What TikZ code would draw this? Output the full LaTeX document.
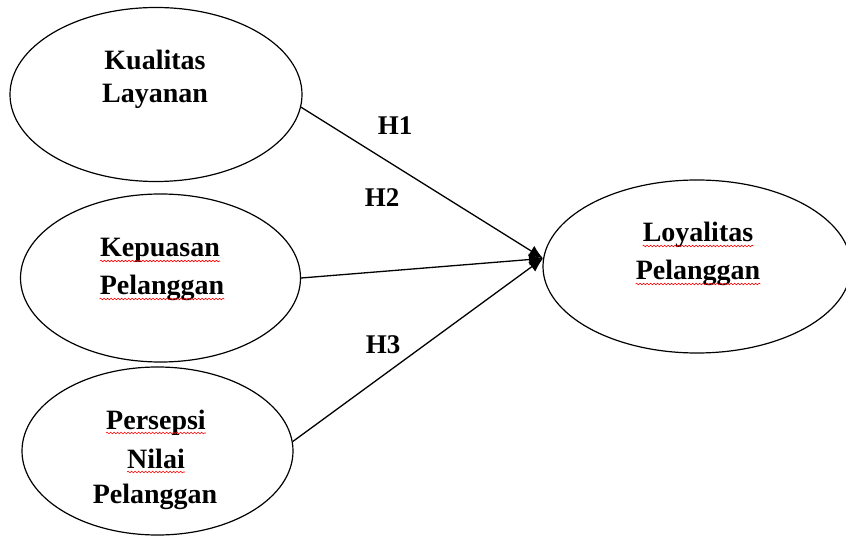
\documentclass[tikz,border=0pt]{standalone}
\usepackage{fontspec}
\setmainfont{Liberation Serif}
\usetikzlibrary{shapes.geometric,arrows.meta,decorations.pathmorphing}
\begin{document}
\begin{tikzpicture}[x=1pt,y=-1pt,
  oval/.style={draw, ellipse, line width=1.2pt, inner sep=0pt},
  lbl/.style={font=\bfseries\fontsize{28}{33}\selectfont, inner sep=0pt, anchor=base},
  hyp/.style={font=\bfseries\fontsize{27}{30}\selectfont, inner sep=0pt},
  link/.style={line width=1.3pt, -{Latex[length=14pt,width=12pt]}},
  spell/.style={draw=red, line width=0.6pt, decorate, decoration={snake, amplitude=0.8pt, segment length=3.5pt}}]
\useasboundingbox (0,0) rectangle (846,537);
\fill[white] (0,0) rectangle (846,537);
% ellipses
\node[oval, minimum width=292pt, minimum height=174pt] (e1) at (156,94.5) {};
\node[oval, minimum width=280pt, minimum height=168pt] (e2) at (160.5,278) {};
\node[oval, minimum width=271pt, minimum height=168pt] (e3) at (157.5,451) {};
\node[oval, minimum width=308pt, minimum height=173pt] (e4) at (697,266.5) {};
% texts
\node[lbl] (t1a) at (155,70) {Kualitas};
\node[lbl] (t1b) at (155,103) {Layanan};
\node[lbl] (t2a) at (160,257) {Kepuasan};
\node[lbl] (t2b) at (162,295) {Pelanggan};
\node[lbl] (t3a) at (156,429) {Persepsi};
\node[lbl] (t3b) at (156,468) {Nilai};
\node[lbl] (t3c) at (155,503) {Pelanggan};
\node[lbl] (t4a) at (698,242) {Loyalitas};
\node[lbl] (t4b) at (698,280) {Pelanggan};
\foreach \n in {t2a,t2b,t3a,t3b,t4a,t4b}
  \draw[spell] ([yshift=-4pt]\n.base west) -- ([yshift=-4pt]\n.base east);
% hypothesis labels
\node[hyp] (h1) at (395,126) {H1};
\node[hyp] (h2) at (382,198) {H2};
\node[hyp] (h3) at (383,345) {H3};
% connectors
\draw[link] (e1.-5) -- (e4.177);
\draw[link] (e2.east) -- (e4.177);
\draw[link] (e3.4) -- (e4.177);
\end{tikzpicture}
\end{document}
